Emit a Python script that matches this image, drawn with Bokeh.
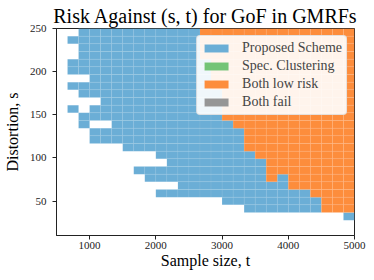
import numpy as np
from bokeh.plotting import figure
from bokeh.embed import file_html
from bokeh.resources import INLINE
from bokeh.models import ColumnDataSource, FixedTicker, Range1d

# ---- data -------------------------------------------------------------
t_min, t_max, n_t = 500, 5000, 27      # sample size axis (bin edges)
s_min, s_max, n_s = 10, 250, 27        # distortion axis (bin edges)

x_ticks = [1000, 2000, 3000, 4000, 5000]
y_ticks = [50, 100, 150, 200, 250]

categories = ["Proposed Scheme", "Spec. Clustering", "Both low risk", "Both fail"]
codes = ["B", "G", "O", "F"]
colors = ["#6baed6", "#74c476", "#fd8d3c", "#969696"]

# rows from top (largest s) to bottom (smallest s), run-length encoded
# '.' = no region, 'B' = proposed scheme, 'O' = both low risk
risk_rows = [
    [(".", 2), ("B", 11), ("O", 14)],
    [(".", 1), ("B", 12), ("O", 14)],
    [(".", 2), ("B", 11), ("O", 14)],
    [(".", 2), ("B", 11), ("O", 14)],
    [(".", 1), ("B", 13), ("O", 13)],
    [(".", 1), ("B", 13), ("O", 13)],
    [(".", 3), ("B", 11), ("O", 13)],
    [(".", 1), ("B", 13), ("O", 13)],
    [(".", 2), ("B", 13), ("O", 12)],
    [(".", 4), ("B", 11), ("O", 12)],
    [(".", 1), ("B", 1), (".", 1), ("B", 12), ("O", 12)],
    [(".", 2), ("B", 13), ("O", 12)],
    [(".", 2), ("B", 1), (".", 2), ("B", 11), ("O", 11)],
    [(".", 3), ("B", 14), ("O", 10)],
    [(".", 3), ("B", 14), ("O", 10)],
    [(".", 6), ("B", 11), ("O", 10)],
    [(".", 9), ("B", 9), ("O", 9)],
    [(".", 10), ("B", 9), ("O", 8)],
    [(".", 7), ("B", 12), ("O", 8)],
    [(".", 8), ("B", 11), ("O", 1), ("B", 1), ("O", 6)],
    [(".", 11), ("B", 10), ("O", 6)],
    [(".", 9), ("B", 14), ("O", 4)],
    [(".", 15), ("B", 9), ("O", 3)],
    [(".", 17), ("B", 7), ("O", 3)],
    [(".", 26), ("B", 1)],
    [(".", 27)],
    [(".", 27)],
]

title_text = "Risk Against (s, t) for GoF in GMRFs"
x_label = "Sample size, t"
y_label = "Distortion, s"

# ---- build cells --------------------------------------------------------
dt = (t_max - t_min) / n_t
ds = (s_max - s_min) / n_s
cells = {c: {"x": [], "y": []} for c in codes}
for r, row in enumerate(risk_rows):
    c = 0
    for code, cnt in row:
        for k in range(cnt):
            if code in cells:
                cells[code]["x"].append(t_min + (c + 0.5) * dt)
                cells[code]["y"].append(s_max - (r + 0.5) * ds)
            c += 1
    assert c == n_t
# categories without any cell still need a legend swatch: a single NaN cell
for code in codes:
    if not cells[code]["x"]:
        cells[code]["x"].append(np.nan)
        cells[code]["y"].append(np.nan)

SERIF = "Liberation Serif"
DARK = "#222222"

p = figure(width=374, height=280,
           x_range=Range1d(t_min, t_max), y_range=Range1d(s_min, s_max),
           output_backend="svg", toolbar_location=None, title=title_text)

for code, label, col in zip(codes, categories, colors):
    src = ColumnDataSource(cells[code])
    p.rect(x="x", y="y", width=dt, height=ds, source=src,
           fill_color=col, line_color="white", line_alpha=0.1, line_width=0.5,
           legend_label=label)

p.title.text_font = SERIF
p.title.text_font_size = "20px"
p.title.text_font_style = "normal"
p.title.text_color = "black"
p.title.align = "center"
p.title.standoff = 3

p.xaxis.axis_label = x_label
p.yaxis.axis_label = y_label
p.xaxis.ticker = FixedTicker(ticks=x_ticks)
p.yaxis.ticker = FixedTicker(ticks=y_ticks)
for ax in (p.xaxis[0], p.yaxis[0]):
    ax.axis_label_text_font = SERIF
    ax.axis_label_text_font_size = "16px"
    ax.axis_label_text_font_style = "normal"
    ax.axis_label_text_color = "black"
    ax.major_label_text_font = SERIF
    ax.major_label_text_font_size = "11px"
    ax.major_label_text_color = DARK
    ax.minor_tick_line_color = None
    ax.major_tick_in = 0
    ax.major_tick_out = 4
    ax.axis_line_color = DARK
    ax.major_tick_line_color = DARK
p.xaxis[0].major_label_standoff = 2
p.xaxis[0].axis_label_standoff = 0
p.yaxis[0].major_label_standoff = 6
p.yaxis[0].axis_label_standoff = 6
p.xgrid.visible = False
p.ygrid.visible = False
p.outline_line_color = DARK
p.outline_line_alpha = 1
p.min_border_left = 51
p.min_border_right = 20
p.min_border_top = 28
p.min_border_bottom = 45

lg = p.legend[0]
lg.location = "top_right"
lg.label_text_font = SERIF
lg.label_text_font_size = "14px"
lg.glyph_width = 30
lg.glyph_height = 10
lg.spacing = 2
lg.padding = 4
lg.margin = 7
lg.label_standoff = 11
lg.border_line_color = "#cccccc"
lg.background_fill_alpha = 0.9
try:
    lg.border_radius = 4
except Exception:
    pass

open("out.html", "w").write(file_html(p, INLINE))
